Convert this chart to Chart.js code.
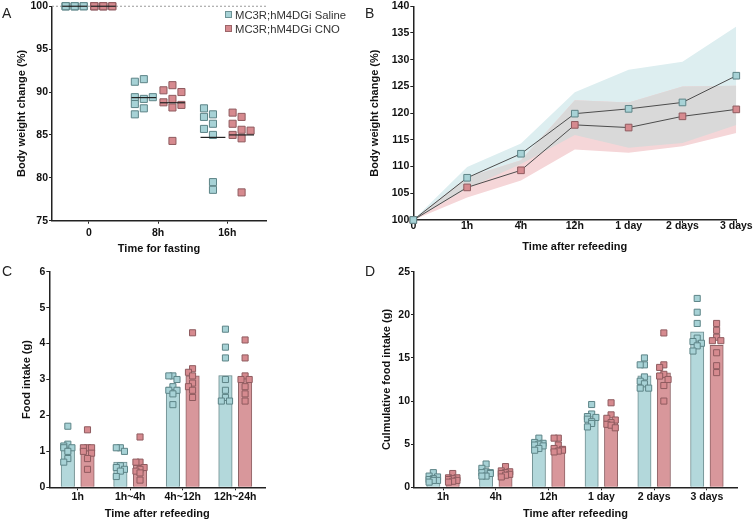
<!DOCTYPE html>
<html>
<head>
<meta charset="utf-8">
<script src="https://cdn.jsdelivr.net/npm/chart.js"></script>
<style>
  body { margin: 0; background: #fff; }
  #fig { position: relative; width: 755px; height: 522px; font-family: "Liberation Sans", Arial, sans-serif; }
  canvas { position: absolute; }
  .tag { position: absolute; font-size: 14px; line-height: 1; color: #222; }
  .leg { position: absolute; left: 235px; font-size: 11.3px; line-height: 1; color: #333; white-space: nowrap; }
  .sq { position: absolute; left: 225px; width: 5px; height: 5px; border: 1px solid; }
</style>
</head>
<body>
<div id="fig">
  <canvas id="chartA" width="280" height="262" style="left:0;top:0"></canvas>
  <canvas id="chartB" width="387" height="262" style="left:368px;top:0"></canvas>
  <canvas id="chartC" width="290" height="260" style="left:0;top:262px"></canvas>
  <canvas id="chartD" width="383" height="260" style="left:372px;top:262px"></canvas>
  <div class="tag" style="left:2px;top:6px">A</div>
  <div class="tag" style="left:365px;top:6px">B</div>
  <div class="tag" style="left:2px;top:264px">C</div>
  <div class="tag" style="left:365px;top:264px">D</div>
  <span class="sq" style="top:11px;background:#a7d2d6;border-color:#6d9295"></span>
  <div class="leg" style="top:9.5px">MC3R;hM4DGi Saline</div>
  <span class="sq" style="top:25px;background:#d68a8f;border-color:#9c6569"></span>
  <div class="leg" style="top:23.5px">MC3R;hM4DGi CNO</div>
</div>
<script>
// ---- data ----
// A: body weight change during fasting, one value per mouse
const catsA = ['0', '8h', '16h'];
const salineA = [
  [100, 100, 100, 100, 100, 100, 100, 100],
  [91.5, 91.2, 89.2, 89.4, 89.4, 88.6, 88.1, 87.4],
  [87.4, 88.1, 87.1, 86.3, 85.7, 85.0, 79.5, 78.6]
];
const cnoA = [
  [100, 100, 100, 100, 100, 100, 100, 100],
  [90.8, 90.2, 90.0, 89.2, 88.8, 88.2, 88.5, 84.3],
  [87.1, 87.6, 86.3, 85.6, 85.5, 84.6, 85.0, 78.3]
];

// B: body weight after refeeding, mean and SD
const labelsB = ['0', '1h', '4h', '12h', '1 day', '2 days', '3 days'];
const salineMeanB = [100, 107.9, 112.4, 119.9, 120.8, 122.0, 127.0];
const salineSdB = [0, 2.0, 1.9, 4.0, 7.3, 7.6, 9.2];
const cnoMeanB = [100, 106.1, 109.3, 117.8, 117.3, 119.4, 120.7];
const cnoSdB = [0, 1.9, 1.9, 4.6, 4.7, 5.6, 4.4];

// C: food intake per interval
const catsC = ['1h', '1h~4h', '4h~12h', '12h~24h'];
const salineC = [
  [1.7, 1.2, 1.15, 1.1, 1.1, 1.0, 0.8, 0.7],
  [1.1, 1.1, 1.0, 0.6, 0.55, 0.5, 0.45, 0.3],
  [3.1, 3.1, 3.0, 2.8, 2.7, 2.7, 2.6, 2.3],
  [4.4, 3.9, 3.6, 3.0, 2.7, 2.5, 2.4, 2.4]
];
const cnoC = [
  [1.6, 1.1, 1.1, 1.1, 1.0, 0.95, 0.8, 0.5],
  [1.4, 0.7, 0.7, 0.55, 0.5, 0.45, 0.4, 0.2],
  [4.3, 3.3, 3.2, 3.1, 2.9, 2.8, 2.7, 2.5],
  [4.1, 3.6, 3.1, 3.0, 3.0, 2.8, 2.6, 2.4]
];

// D: cumulative food intake
const catsD = ['1h', '4h', '12h', '1 day', '2 days', '3 days'];
const salineD = [
  [1.7, 1.3, 1.2, 1.0, 0.9, 0.8, 0.8, 0.6],
  [2.7, 2.2, 1.8, 1.7, 1.7, 1.6, 1.3, 1.3],
  [5.7, 5.2, 5.1, 5.0, 4.9, 4.8, 4.5, 4.3],
  [9.6, 8.5, 8.2, 8.1, 7.9, 7.6, 7.4, 7.0],
  [15.0, 14.2, 14.2, 12.8, 12.3, 12.0, 11.5, 11.5],
  [21.9, 20.3, 19.0, 17.3, 16.9, 16.7, 16.4, 15.8]
];
const cnoD = [
  [1.6, 1.1, 1.1, 1.0, 0.9, 0.8, 0.7, 0.6],
  [2.4, 1.9, 1.8, 1.7, 1.6, 1.5, 1.4, 1.2],
  [5.7, 5.7, 4.9, 4.5, 4.4, 4.3, 4.2, 4.1],
  [9.8, 8.4, 8.0, 7.8, 7.5, 7.3, 7.2, 6.9],
  [17.9, 14.2, 13.9, 13.1, 12.9, 12.5, 11.8, 10.0],
  [19.0, 18.2, 17.4, 17.0, 17.0, 15.6, 14.1, 13.3]
];

// ---- styling ----
const FONT = '"Liberation Sans", Arial, sans-serif';
const SAL = { pt: '#a7d2d6', ptLine: '#5d8487', bar: '#b3d8db', barLine: '#6f8d8f', band: '#ddeef0' };
const CNO = { pt: '#d68a8f', ptLine: '#8f5b5f', bar: '#d8979b', barLine: '#8e6366', band: '#f5d6d8' };
const tickFont = { family: FONT, size: 10.5, weight: 'bold', lineHeight: 1 };
const titleFont = { family: FONT, size: 11, weight: 'bold', lineHeight: 1 };

function mean(a) { return a.reduce((s, v) => s + v, 0) / a.length; }

// simple beeswarm: put each point in the nearest free column
function swarm(values, gap, step, cols) {
  const order = [0, -1, 1, -2, 2].slice(0, cols);
  const placed = [];
  return values.map((v, k) => {
    let c = order.find(c => !placed.some(p => p.c === c && Math.abs(p.v - v) < gap));
    if (c === undefined) c = order[k % order.length];
    placed.push({ c, v });
    return c * step;
  });
}

function pointsFor(groups, shift, gap, step) {
  const out = [];
  groups.forEach((vals, i) => {
    const dx = swarm(vals, gap, step, 3);
    vals.forEach((v, k) => out.push({ x: i + shift + dx[k], y: v }));
  });
  return out;
}

function yScale(min, max, step, title, width, titlePad) {
  return {
    min: min, max: max,
    border: { color: '#222', width: 1.5 },
    grid: { drawOnChartArea: false, tickLength: 3, tickColor: '#222' },
    ticks: { stepSize: step, color: '#111', padding: 1, font: tickFont },
    title: { display: true, text: title, color: '#111', font: titleFont, padding: { top: titlePad, bottom: 0 } },
    afterFit: s => { s.width = width; }
  };
}

function xLinear(cats, min, max, title, height, tickPad, titlePad) {
  return {
    type: 'linear', min: min, max: max, offset: false,
    border: { color: '#222', width: 1.5 },
    grid: { drawOnChartArea: false, offset: false, tickLength: 3, tickColor: '#222' },
    afterBuildTicks: s => { s.ticks = cats.map((c, i) => ({ value: i })); },
    ticks: { callback: v => cats[v], color: '#111', padding: tickPad, font: tickFont, maxRotation: 0, autoSkip: false },
    title: { display: true, text: title, color: '#111', font: titleFont, padding: { top: 0, bottom: titlePad } },
    afterFit: s => { s.height = height; }
  };
}

const baseOpts = {
  responsive: false,
  animation: false,
  events: [],
  plugins: { legend: { display: false }, tooltip: { enabled: false } }
};

function ptSet(data, c, r) {
  return {
    type: 'scatter', data: data, pointStyle: 'rect', pointRadius: r,
    backgroundColor: c.pt, borderColor: c.ptLine, borderWidth: 1, clip: false, order: 1
  };
}

// ---- A ----
const meanLinesA = [];
[[salineA, -0.207], [cnoA, 0.207]].forEach(([groups, shift]) => {
  groups.forEach((vals, i) => {
    const m = mean(vals);
    meanLinesA.push({
      type: 'line', data: [{ x: i + shift - 0.18, y: m }, { x: i + shift + 0.18, y: m }],
      borderColor: '#222', borderWidth: 1.2, pointRadius: 0, clip: false, order: 0
    });
  });
});

new Chart(document.getElementById('chartA'), {
  type: 'scatter',
  data: {
    datasets: [
      { type: 'line', data: [{ x: -0.535, y: 100 }, { x: 2.56, y: 100 }], borderColor: '#9a9a9a',
        borderWidth: 1, borderDash: [2, 2], pointRadius: 0, clip: false, order: 3 },
      ptSet(pointsFor(salineA, -0.207, 0.8, 0.13), SAL, 5),
      ptSet(pointsFor(cnoA, 0.207, 0.8, 0.13), CNO, 5)
    ].concat(meanLinesA)
  },
  options: Object.assign({}, baseOpts, {
    layout: { padding: { top: 5.3, right: 14, left: 0, bottom: 0 } },
    scales: {
      x: xLinear(catsA, -0.535, 2.56, 'Time for fasting', 41.3, 4, 7.8),
      y: yScale(75, 100, 5, 'Body weight change (%)', 52, 16)
    }
  })
});

// ---- B ----
const salUpB = salineMeanB.map((m, i) => m + salineSdB[i]);
const salLoB = salineMeanB.map((m, i) => m - salineSdB[i]);
const cnoUpB = cnoMeanB.map((m, i) => m + cnoSdB[i]);
const cnoLoB = cnoMeanB.map((m, i) => m - cnoSdB[i]);
const ovUpB = salUpB.map((v, i) => Math.min(v, cnoUpB[i]));
const ovLoB = salLoB.map((v, i) => Math.min(Math.max(v, cnoLoB[i]), ovUpB[i]));

function bandSet(data, color, target, order) {
  return { data: data, fill: target === null ? false : target, backgroundColor: color,
    borderWidth: 0, pointRadius: 0, order: order };
}
function meanSet(data, c, order) {
  return { data: data, borderColor: '#4d4d4d', borderWidth: 1, tension: 0, fill: false,
    pointStyle: 'rect', pointRadius: 4.7, pointBackgroundColor: c.pt, pointBorderColor: c.ptLine,
    pointBorderWidth: 1, clip: false, order: order };
}

new Chart(document.getElementById('chartB'), {
  type: 'line',
  data: {
    labels: labelsB,
    datasets: [
      meanSet(salineMeanB, SAL, 0),
      meanSet(cnoMeanB, CNO, 1),
      bandSet(ovUpB, '#d9d9d9', 3, 2),
      bandSet(ovLoB, '#d9d9d9', null, 3),
      bandSet(cnoUpB, CNO.band, 5, 4),
      bandSet(cnoLoB, CNO.band, null, 5),
      bandSet(salUpB, SAL.band, 7, 6),
      bandSet(salLoB, SAL.band, null, 7)
    ]
  },
  options: Object.assign({}, baseOpts, {
    layout: { padding: { top: 5.3, right: 18.7, left: 0, bottom: 0 } },
    scales: {
      x: {
        type: 'category', offset: false,
        border: { color: '#222', width: 1.5 },
        grid: { drawOnChartArea: false, offset: false, tickLength: 3, tickColor: '#222' },
        ticks: { color: '#111', padding: -2, font: tickFont, maxRotation: 0, autoSkip: false },
        title: { display: true, text: 'Time after refeeding', color: '#111', font: titleFont, padding: { top: 0, bottom: 9.5 } },
        afterFit: s => { s.height = 42; }
      },
      y: yScale(100, 140, 5, 'Body weight change (%)', 45.3, 1.5)
    }
  })
});

// ---- C and D: bars are the group means ----
function barSet(groups, shift, c, thick) {
  return {
    type: 'bar', data: groups.map((vals, i) => ({ x: i + shift, y: mean(vals) })),
    backgroundColor: c.bar, borderColor: c.barLine, borderWidth: 1, barThickness: thick,
    grouped: false, order: 2
  };
}

function barChart(id, cats, sal, cno, o) {
  new Chart(document.getElementById(id), {
    type: 'bar',
    data: {
      datasets: [
        barSet(sal, -o.shift, SAL, o.thick),
        barSet(cno, o.shift, CNO, o.thick),
        ptSet(pointsFor(sal, -o.shift, o.gap, o.step), SAL, 4.3),
        ptSet(pointsFor(cno, o.shift, o.gap, o.step), CNO, 4.3)
      ]
    },
    options: Object.assign({}, baseOpts, {
      layout: { padding: { top: 9.7, right: o.right, left: 0, bottom: 0 } },
      scales: {
        x: xLinear(cats, o.xmin, o.xmax, 'Time after refeeding', 34.7, 1.5, 2.5),
        y: yScale(0, o.ymax, o.ystep, o.title, o.yw, o.titlePad)
      }
    })
  });
}

barChart('chartC', catsC, salineC, cnoC, {
  shift: 0.187, thick: 13.5, gap: 0.17, step: 0.078, xmin: -0.54, xmax: 3.566,
  ymax: 6, ystep: 1, title: 'Food intake (g)', yw: 49.3, titlePad: 21, right: 25
});
barChart('chartD', catsD, salineD, cnoD, {
  shift: 0.184, thick: 13.3, gap: 0.7, step: 0.08, xmin: -0.55, xmax: 5.57,
  ymax: 25, ystep: 5, title: 'Culmulative food intake (g)', yw: 42, titlePad: 9.5, right: 18
});
</script>
</body>
</html>
